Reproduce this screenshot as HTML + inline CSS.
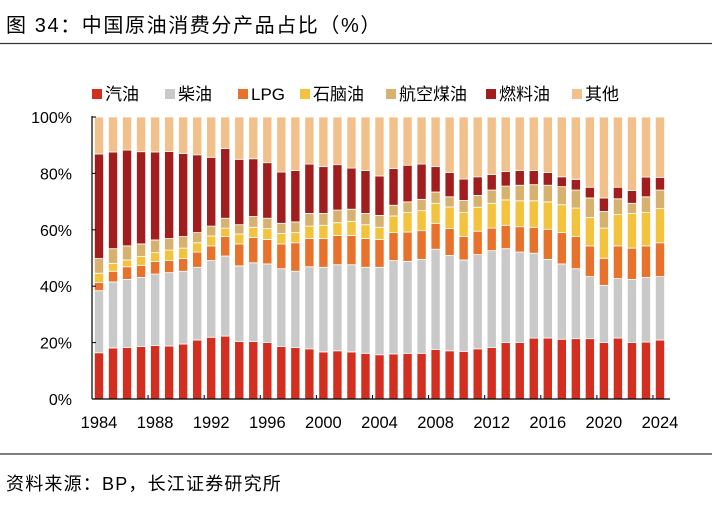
<!DOCTYPE html>
<html><head><meta charset="utf-8"><style>
body{margin:0;background:#fff;width:712px;height:504px;overflow:hidden;font-family:"Liberation Sans","Noto Sans CJK SC",sans-serif;}
</style></head><body>
<svg id="c" width="712" height="504" xmlns="http://www.w3.org/2000/svg">
<text x="6" y="32" font-size="20" letter-spacing="1.6" fill="#000" font-family="Liberation Sans, Noto Sans CJK SC, sans-serif">图 34：中国原油消费分产品占比（%）</text>
<line x1="0" y1="43.5" x2="712" y2="43.5" stroke="#333" stroke-width="1.2"/>
<line x1="0" y1="454" x2="712" y2="454" stroke="#333" stroke-width="1.2"/>
<text x="6" y="490" font-size="18" letter-spacing="1.2" fill="#000" font-family="Liberation Sans, Noto Sans CJK SC, sans-serif">资料来源：BP，长江证券研究所</text>
<g id="plot"></g>
</svg>
<script>
const years=[];for(let y=1984;y<=2024;y++)years.push(y);
const seriesNames=["汽油","柴油","LPG","石脑油","航空煤油","燃料油","其他"];
const gasoline=[16.4,18.1,18.3,18.6,19.0,18.8,19.5,20.9,21.9,22.3,20.4,20.4,20.0,18.6,18.3,17.8,16.7,17.1,16.7,16.2,15.7,16.0,16.2,16.2,17.6,17.1,16.9,17.8,18.3,20.0,20.0,21.6,21.6,21.2,21.4,21.4,20.0,21.6,20.0,20.2,20.9];
const diesel=[22.0,23.4,24.1,24.5,25.3,26.0,25.8,25.8,27.2,28.4,26.8,27.9,27.9,27.6,27.0,29.1,30.0,30.5,30.9,30.5,31.0,33.1,32.6,33.3,35.5,33.8,32.4,33.4,34.3,33.3,32.1,30.1,27.9,26.7,24.8,22.0,20.3,21.1,22.4,22.9,22.5];
const lpg=[2.9,3.8,4.5,4.3,4.5,4.3,4.5,5.4,5.2,6.9,7.8,9.0,8.7,8.8,10.1,10.0,10.2,10.4,10.4,10.2,9.9,9.9,10.4,10.2,9.2,9.6,8.3,8.3,8.0,8.3,9.0,9.2,10.7,11.1,11.4,10.9,9.6,11.6,11.1,11.2,12.0];
const naphtha=[3.3,2.8,2.4,3.1,3.1,3.7,3.7,3.3,3.5,3.0,3.5,3.6,3.8,3.7,3.6,4.4,4.7,4.5,5.0,4.9,4.3,5.9,6.9,7.1,7.1,7.6,8.5,8.5,8.8,9.0,9.2,9.4,9.7,9.9,10.1,10.1,10.7,11.1,12.3,11.8,12.1];
const jetFuel=[5.2,5.2,5.0,4.5,4.5,4.1,4.1,3.6,3.5,3.5,3.3,3.8,3.7,3.6,3.8,4.5,4.2,4.5,4.3,4.0,4.2,3.8,3.8,4.0,4.0,3.6,4.3,4.2,4.7,4.9,5.5,5.7,5.9,6.4,6.4,6.9,5.9,5.6,3.6,5.6,6.6];
const fuelOil=[37.1,34.3,34.0,32.7,31.2,30.9,29.5,27.6,24.4,24.7,23.2,20.5,19.7,18.2,18.2,17.5,16.6,16.1,14.6,15.2,14.0,13.0,13.0,12.5,9.0,8.6,7.6,6.6,5.5,5.2,5.2,5.0,4.5,3.5,3.8,3.8,4.8,4.1,4.5,7.0,4.5];
const other=[13.1,12.4,11.7,12.3,12.4,12.2,12.9,13.4,14.3,11.2,15.0,14.8,16.2,19.5,19.0,16.7,17.6,16.9,18.1,19.0,20.9,18.3,17.1,16.7,17.6,19.7,22.0,21.2,20.4,19.3,19.0,19.0,19.7,21.2,22.1,24.9,28.7,24.9,26.1,21.3,21.4];
const yTicks=[0,20,40,60,80,100];
const xTickLabels=[1984,1988,1992,1996,2000,2004,2008,2012,2016,2020,2024];

const colors=["#d32f21","#c9c9c9","#e8722b","#f4c33e","#d7b26e","#a11d1e","#f2c18b"];
const series=[gasoline,diesel,lpg,naphtha,jetFuel,fuelOil,other];
const L=92,R=667,T=117,B=399;
const band=(R-L)/years.length;
const xPos=i=>L+band*i+band/2;
const yPos=v=>B-(v/100)*(B-T);
const NS="http://www.w3.org/2000/svg";
const g=document.getElementById('plot');
function mk(tag,attrs){const e=document.createElementNS(NS,tag);for(const k in attrs)e.setAttribute(k,attrs[k]);g.appendChild(e);return e;}
const font='Liberation Sans, Noto Sans CJK SC, sans-serif';
years.forEach((yr,i)=>{
  let cum=0;
  series.forEach((s,k)=>{
    const v=s[i];
    const y0=yPos(cum),y1=yPos(cum+v);
    const r=mk('rect',{x:xPos(i)-4.6,y:y1,width:9.2,height:Math.max(0,y0-y1),fill:colors[k],stroke:'#fff','stroke-width':0.8});
    
    
    cum+=v;
  });
});
const ya=mk('line',{x1:L,y1:T-1,x2:L,y2:B,stroke:'#000','stroke-width':1.2});


const xa=mk('line',{x1:L,y1:B,x2:R+3,y2:B,stroke:'#000','stroke-width':1.2});


yTicks.forEach(t=>{
  const tk=mk('line',{x1:L,y1:yPos(t),x2:L+4,y2:yPos(t),stroke:'#000'});
  
  
  const tx=mk('text',{x:L-20,y:yPos(t)+6,'text-anchor':'end','font-size':16,'font-family':font});
  tx.textContent=t+'%';
  
  
});
xTickLabels.forEach(yr=>{
  const i=years.indexOf(yr);
  const tk=mk('line',{x1:L+band*i,y1:B,x2:L+band*i,y2:B-4,stroke:'#000'});
  
  
  const tx=mk('text',{x:xPos(i),y:B+29,'text-anchor':'middle','font-size':16.5,'font-family':font});
  tx.textContent=yr;
  
  
});
let lx=92;
const legW=[73,73,62,86,100,86,60];
seriesNames.forEach((n,k)=>{
  const sw=mk('rect',{x:lx,y:89,width:10,height:10,fill:colors[k]});
  
  
  const tx=mk('text',{x:lx+13,y:100,'font-size':17,'font-family':font});
  tx.textContent=n;
  
  
  lx+=legW[k];
});
</script>
</body></html>
